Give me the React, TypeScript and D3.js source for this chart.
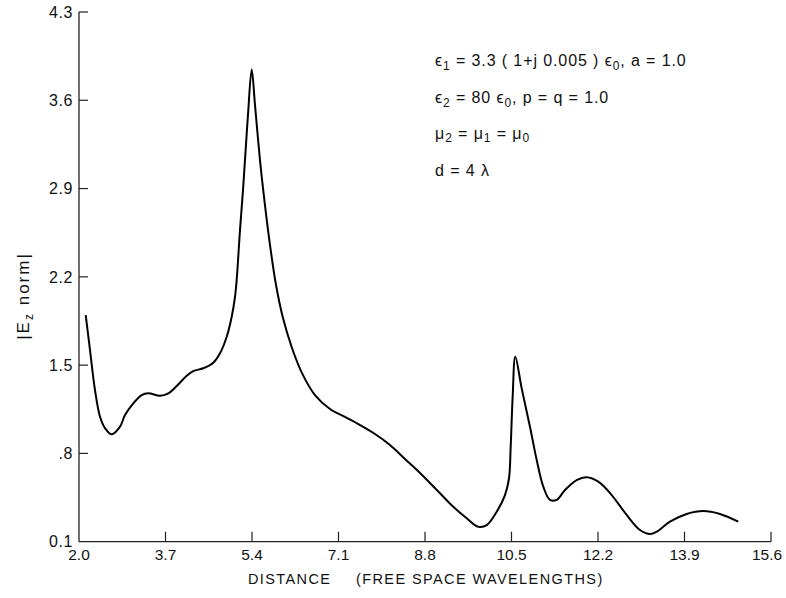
import React from "react";
import * as d3 from "d3";

const xTicks = [2.0, 3.7, 5.4, 7.1, 8.8, 10.5, 12.2, 13.9, 15.6];
const xTickLabels = ["2.0", "3.7", "5.4", "7.1", "8.8", "10.5", "12.2", "13.9", "15.6"];
const yTicks = [0.1, 0.8, 1.5, 2.2, 2.9, 3.6, 4.3];
const yTickLabels = ["0.1", ".8", "1.5", "2.2", "2.9", "3.6", "4.3"];

const distance = [
  2.132, 2.216, 2.314, 2.413, 2.511, 2.643, 2.806, 2.904, 3.067, 3.232, 3.362, 3.592, 3.755,
  3.92, 4.117, 4.246, 4.443, 4.639, 4.771, 4.903, 5.001, 5.066, 5.099, 5.164, 5.223, 5.262,
  5.321, 5.394, 5.459, 5.557, 5.655, 5.754, 5.872, 6.009, 6.186, 6.383, 6.638, 6.933, 7.228,
  7.523, 7.817, 8.112, 8.407, 8.702, 9.095, 9.356, 9.62, 9.847, 10.013, 10.209, 10.372,
  10.451, 10.484, 10.523, 10.575, 10.7, 10.863, 10.995, 11.125, 11.257, 11.388, 11.551,
  11.781, 11.978, 12.206, 12.469, 12.764, 13.025, 13.222, 13.354, 13.615, 13.943, 14.269,
  14.597, 14.957,
];
const ezNorm = [
  1.897, 1.62, 1.303, 1.091, 1.001, 0.951, 1.012, 1.104, 1.197, 1.263, 1.277, 1.258, 1.277,
  1.334, 1.416, 1.453, 1.475, 1.519, 1.594, 1.725, 1.884, 2.042, 2.175, 2.571, 2.888, 3.126,
  3.483, 3.845, 3.562, 3.126, 2.769, 2.452, 2.135, 1.873, 1.636, 1.437, 1.263, 1.152, 1.089,
  1.025, 0.954, 0.867, 0.756, 0.645, 0.484, 0.377, 0.286, 0.219, 0.232, 0.338, 0.47, 0.603,
  0.853, 1.25, 1.567, 1.316, 1.012, 0.748, 0.536, 0.431, 0.431, 0.51, 0.589, 0.611, 0.576,
  0.47, 0.312, 0.193, 0.161, 0.179, 0.259, 0.32, 0.343, 0.32, 0.259,
];

const FONT = "'Liberation Sans', 'DejaVu Sans', sans-serif";

export default function App() {
  const x = d3.scaleLinear().domain([2.0, 15.6]).range([79, 771]);
  const y = d3.scaleLinear().domain([0.1, 4.3]).range([541.7, 12]);
  const pts: [number, number][] = distance.map((d, i) => [d, ezNorm[i]]);
  const line = d3
    .line<[number, number]>()
    .x((d) => x(d[0]))
    .y((d) => y(d[1]))
    .curve(d3.curveCatmullRom.alpha(0.5));

  const axisColor = "#222";
  const sub = { fontSize: 12 } as React.CSSProperties;

  return (
    <svg
      width={786}
      height={598}
      style={{ position: "absolute", left: 0, top: 0, background: "#fff" }}
      fontFamily={FONT}
    >
      <rect x={0} y={0} width={786} height={598} fill="#fff" />
      {/* axes */}
      <line x1={x(2)} x2={x(2)} y1={y(4.3)} y2={y(0.1)} stroke={axisColor} strokeWidth={1.3} />
      <line x1={x(2)} x2={x(15.6)} y1={y(0.1)} y2={y(0.1)} stroke={axisColor} strokeWidth={1.3} />
      {yTicks.map((t, i) => (
        <g key={"y" + i}>
          {i > 0 && (
            <line x1={x(2)} x2={x(2) + 9} y1={y(t)} y2={y(t)} stroke={axisColor} strokeWidth={1.2} />
          )}
          <text
            x={73}
            y={y(t) + 1.5}
            textAnchor="end"
            dominantBaseline="middle"
            fontSize={16}
            letterSpacing={0.6}
            fill="#111"
          >
            {yTickLabels[i]}
          </text>
        </g>
      ))}
      {xTicks.map((t, i) => (
        <g key={"x" + i}>
          {i > 0 && (
            <line x1={x(t)} x2={x(t)} y1={y(0.1)} y2={y(0.1) - 10} stroke={axisColor} strokeWidth={1.2} />
          )}
          <text
            x={Math.min(x(t), 767)}
            y={560}
            textAnchor="middle"
            fontSize={15.5}
            fill="#111"
          >
            {xTickLabels[i]}
          </text>
        </g>
      ))}
      {/* curve */}
      <path d={line(pts) || ""} fill="none" stroke="#000" strokeWidth={2} strokeLinejoin="miter" />
      {/* axis titles */}
      <text x={248} y={584} fontSize={14.5} letterSpacing={1.4} fill="#111">
        DISTANCE
      </text>
      <text x={356} y={584} fontSize={14.5} letterSpacing={1.4} fill="#111">
        (FREE SPACE WAVELENGTHS)
      </text>
      <text
        transform="translate(29,296) rotate(-90)"
        textAnchor="middle"
        fontSize={17}
        letterSpacing={2}
        fill="#111"
      >
        |E<tspan style={sub} dy={4}>z</tspan>
        <tspan dy={-4}> norm|</tspan>
      </text>
      {/* annotations */}
      <g fontSize={16} letterSpacing={0.9} fill="#111">
        <text x={435} y={66}>
          ϵ<tspan style={sub} dy={4}>1</tspan>
          <tspan dy={-4}> = 3.3 ( 1+j 0.005 ) ϵ</tspan>
          <tspan style={sub} dy={4}>0</tspan>
          <tspan dy={-4}>,  a = 1.0</tspan>
        </text>
        <text x={435} y={103}>
          ϵ<tspan style={sub} dy={4}>2</tspan>
          <tspan dy={-4}> = 80 ϵ</tspan>
          <tspan style={sub} dy={4}>0</tspan>
          <tspan dy={-4}>,  p = q = 1.0</tspan>
        </text>
        <text x={435} y={139}>
          μ<tspan style={sub} dy={3}>2</tspan>
          <tspan dy={-3}> = μ</tspan>
          <tspan style={sub} dy={3}>1</tspan>
          <tspan dy={-3}> = μ</tspan>
          <tspan style={sub} dy={3}>0</tspan>
        </text>
        <text x={435} y={176}>
          d = 4 λ
        </text>
      </g>
    </svg>
  );
}
